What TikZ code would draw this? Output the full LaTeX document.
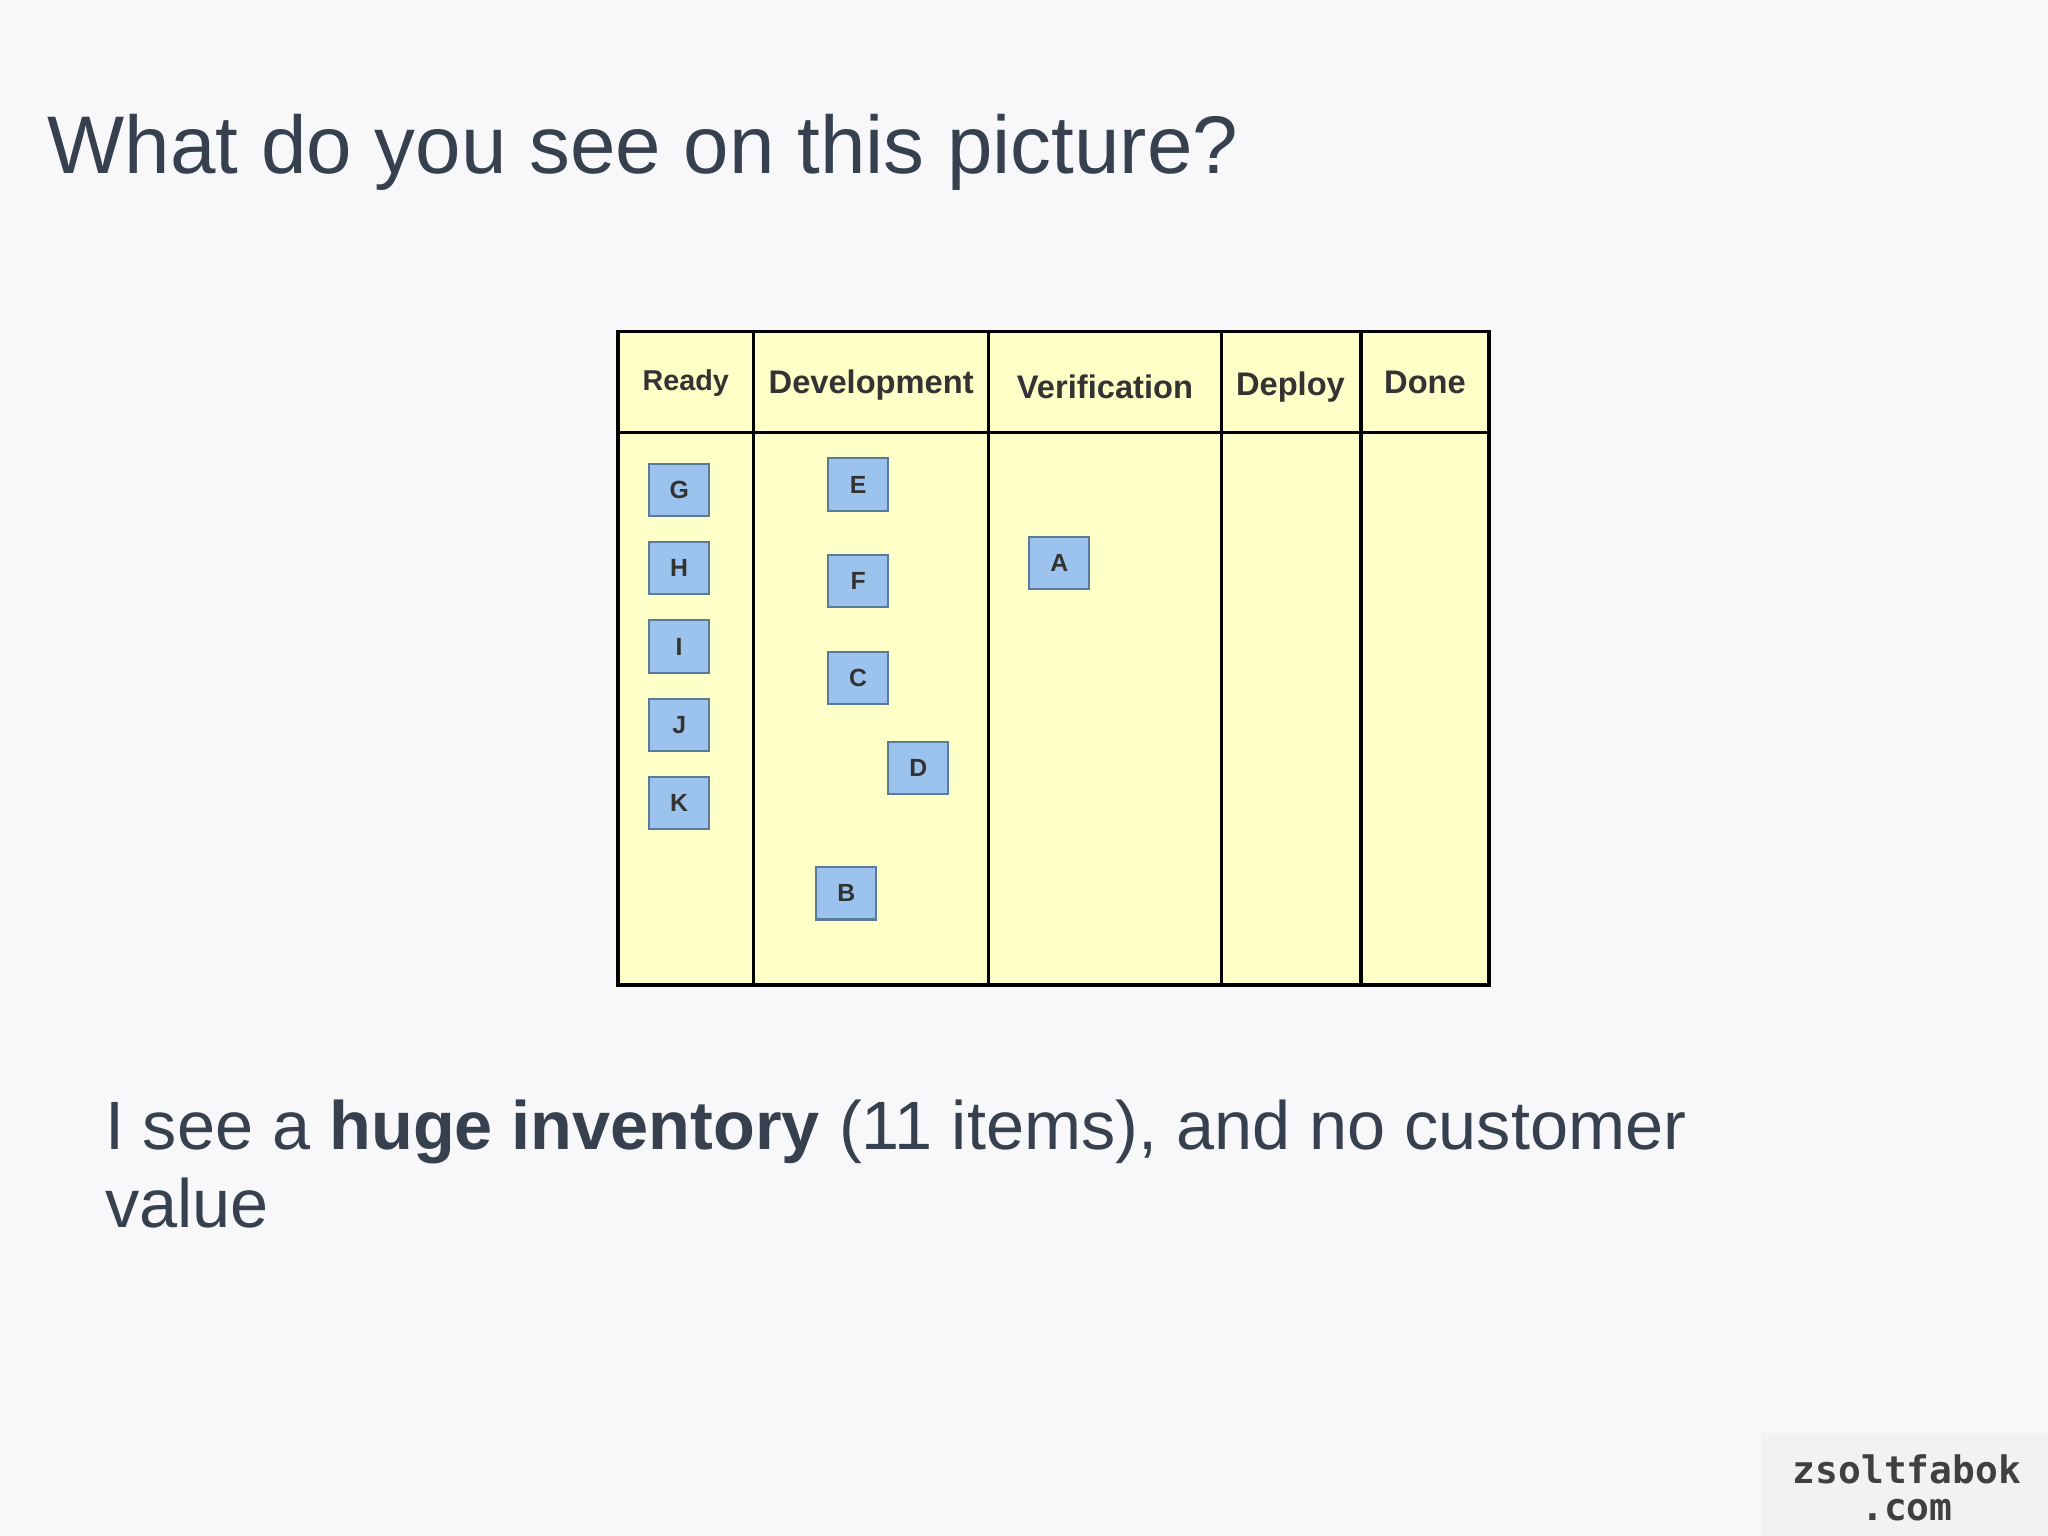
\documentclass[tikz,border=0pt]{standalone}
\usepackage{fontspec}
\setmainfont{Liberation Sans}
\newfontfamily\wmfont{DejaVu Sans Mono}
\definecolor{bg}{HTML}{F8F8FA}
\definecolor{txt}{HTML}{36404E}
\definecolor{board}{HTML}{FFFFC8}
\definecolor{card}{HTML}{9CC3EE}
\definecolor{cardline}{HTML}{5A7A9A}
\begin{document}
\begin{tikzpicture}[x=0.5pt,y=-0.5pt,
  cardbox/.style={draw=cardline,fill=card,line width=0.8pt,minimum width=23pt,minimum height=20pt,inner sep=0pt,font=\bfseries\fontsize{9.5}{10}\selectfont,text=black!80},
  headtxt/.style={font=\bfseries\fontsize{12.5}{13}\selectfont,text=black!80}]
\useasboundingbox[fill=bg] (0,0) rectangle (1568,1176);
\node[anchor=base west,text=txt,font=\fontsize{31.3}{36}\selectfont,inner sep=0pt] (title) at (36,133) {What do you see on this picture?};
\fill[board] (473,254) rectangle (1140,754);
\draw[line width=1.3pt] (473,254) rectangle (1140,754);
\draw[line width=1.3pt] (473,331) -- (1140,331);
\foreach \x in {577,757,935,1042} \draw[line width=1.3pt] (\x,254) -- (\x,754);
\node[headtxt,font=\bfseries\fontsize{11}{12}\selectfont] (h1) at (525,293) {Ready};
\node[headtxt] (h2) at (667,295) {Development};
\node[headtxt] (h3) at (846,296) {Verification};
\node[headtxt] (h4) at (988,296) {Deploy};
\node[headtxt] (h5) at (1091,293) {Done};
\node[cardbox] (G) at (520,375) {G};
\node[cardbox] (H) at (520,435) {H};
\node[cardbox] (I) at (520,495) {I};
\node[cardbox] (J) at (520,555) {J};
\node[cardbox] (K) at (520,615) {K};
\node[cardbox] (E) at (657,371) {E};
\node[cardbox] (F) at (657,445) {F};
\node[cardbox] (C) at (657,519) {C};
\node[cardbox] (D) at (703,588) {D};
\node[cardbox] (B) at (648,684) {B};
\node[cardbox] (A) at (811,431) {A};
\node[anchor=base west,text=txt,font=\fontsize{26.2}{30}\selectfont,inner sep=0pt] (l1) at (80,880) {I see a \textbf{huge inventory} (11 items), and no customer};
\node[anchor=base west,text=txt,font=\fontsize{26.2}{30}\selectfont,inner sep=0pt] (l2) at (80,940) {value};
\fill[black!5] (1348,1097) rectangle (1568,1176);
\node[font=\wmfont\bfseries\fontsize{14.5}{15}\selectfont,text=black!75,align=center,inner sep=0pt] (wm) at (1460,1139) {zsoltfabok\\[-1pt].com};
\end{tikzpicture}
\end{document}
